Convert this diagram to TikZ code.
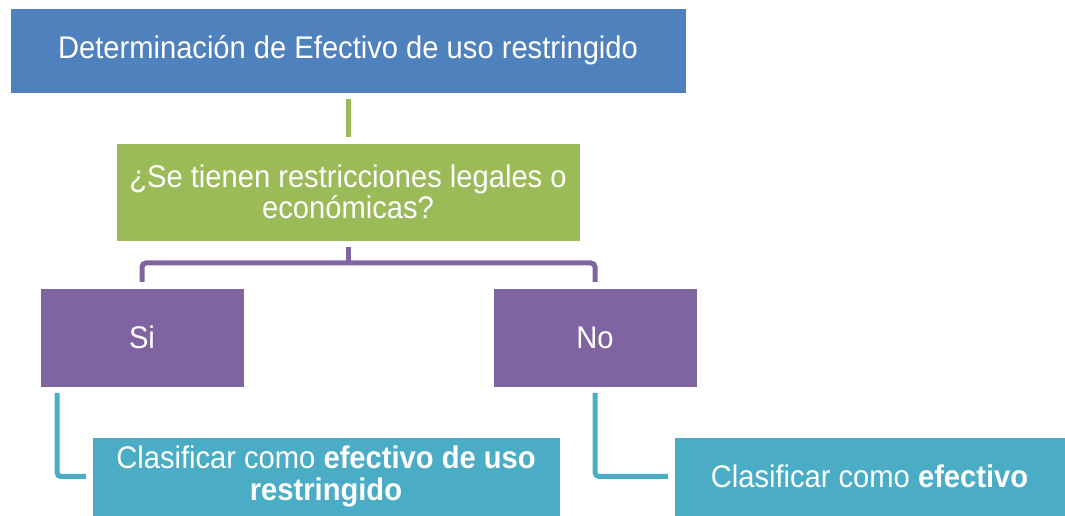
\documentclass[tikz,border=0pt]{standalone}
\usepackage{fontspec}
\setmainfont{Liberation Sans}[FakeStretch=0.93]
\usetikzlibrary{positioning}
\definecolor{boxblue}{HTML}{4F81BD}
\definecolor{boxgreen}{HTML}{9BBB59}
\definecolor{boxpurple}{HTML}{8064A2}
\definecolor{boxteal}{HTML}{4BACC6}
\tikzset{base node/.style={rectangle,draw=white,line width=0.4pt,outer sep=0pt,inner sep=0pt,
            text=white,align=center,font=\fontsize{23.5}{23.5}\selectfont},
         head node/.style={base node,fill=boxblue,minimum width=507pt,minimum height=63.75pt},
         ask node/.style={base node,fill=boxgreen,minimum width=348pt,minimum height=73.5pt},
         answer node/.style={base node,fill=boxpurple,minimum width=153pt,minimum height=74.25pt},
         result node/.style={base node,fill=boxteal,minimum height=59.25pt},
         link/.style={line width=3.75pt,rounded corners=3pt},
            }

\begin{document}
\begin{tikzpicture}
    \useasboundingbox (0,0) rectangle (798.75pt,-387pt);
    \node[head node] (top) at (261pt,-37.875pt) {Determinación de Efectivo de uso restringido};
    \node[ask node] (ask) [below=37.5pt of top] {¿Se tienen restricciones legales o\\económicas?};
    \node[answer node] (si) [below=35.25pt of ask, xshift=-154.5pt] {Si};
    \node[answer node] (no) [below=35.25pt of ask, xshift=185.25pt] {No};
    \node[result node,minimum width=351pt] (clasi) [below right=37.5pt and 39pt of si.south west]
        {Clasificar como \textbf{efectivo de uso}\\\textbf{restringido}};
    \node[result node,minimum width=293.25pt] (clano) [below right=37.5pt and 135.75pt of no.south west]
        {Clasificar como \textbf{efectivo}};
    \coordinate (fork) at ([yshift=-16.5pt]ask.south);

    \draw[link,boxgreen,shorten <=4.5pt,shorten >=4.5pt] (top) -- (ask);
    \draw[link,boxpurple,shorten <=4.5pt] (ask) -- (fork);
    \draw[link,boxpurple,shorten >=4.5pt] (fork) -| (si);
    \draw[link,boxpurple,shorten >=4.5pt] (fork) -| (no);
    \draw[link,boxteal,shorten <=4.5pt,shorten >=4.5pt] ([xshift=12.75pt]si.south west) |- (clasi);
    \draw[link,boxteal,shorten <=4.5pt,shorten >=4.5pt] (no) |- (clano);
  \end{tikzpicture}
\end{document}
